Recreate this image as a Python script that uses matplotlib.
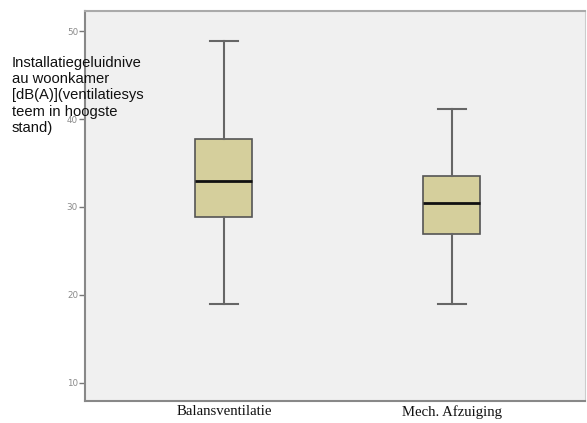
import matplotlib
matplotlib.use("Agg")
import matplotlib.pyplot as plt

categories = ["Balansventilatie", "Mech. Afzuiging"]
whisker_low = [19.0, 19.0]
q1 = [28.9, 26.9]
median = [33.0, 30.4]
q3 = [37.7, 33.5]
whisker_high = [48.9, 41.1]
yticks = [10, 20, 30, 40, 50]
ylabel = "Installatiegeluidnive\nau woonkamer\n[dB(A)](ventilatiesys\nteem in hoogste\nstand)"

fig = plt.figure(figsize=(5.87, 4.23), dpi=100)
ax = fig.add_axes([85/587, 1-401/423, 500/587, 390/423])
ax.set_facecolor("#f0f0f0")

stats = []
for i, c in enumerate(categories):
    stats.append(dict(label=c, whislo=whisker_low[i], q1=q1[i], med=median[i],
                      q3=q3[i], whishi=whisker_high[i], fliers=[]))

ax.bxp(stats, positions=[1, 2], widths=0.25, patch_artist=True, showfliers=False,
       boxprops=dict(facecolor="#d5cf9c", edgecolor="#555555", linewidth=1.2),
       medianprops=dict(color="#111111", linewidth=2),
       whiskerprops=dict(color="#666666", linewidth=1.5),
       capprops=dict(color="#666666", linewidth=1.5),
       capwidths=0.125)

ax.set_xlim(0.39, 2.585)
ax.set_ylim(7.9, 52.3)
ax.set_yticks(yticks)
ax.set_yticklabels([str(t) for t in yticks], fontsize=6.3, color="#8a8a8a")
ax.tick_params(axis="y", length=4, width=1, color="#777777", pad=1)
ax.tick_params(axis="x", length=0, pad=3)
ax.set_xticks([1, 2])
ax.set_xticklabels(categories, fontsize=10.6, family="Liberation Serif", color="#111111")

for s in ax.spines.values():
    s.set_color("#888888")
    s.set_linewidth(1.5)
ax.spines["top"].set_color("#aaaaaa")
ax.spines["right"].set_color("#cccccc")
ax.spines["right"].set_linewidth(0.8)

fig.text(12/587, 1-56/423, ylabel, fontsize=10.6, family="Liberation Sans",
         va="top", ha="left", linespacing=1.2, color="#111111")

fig.savefig("out.png", dpi=100)
